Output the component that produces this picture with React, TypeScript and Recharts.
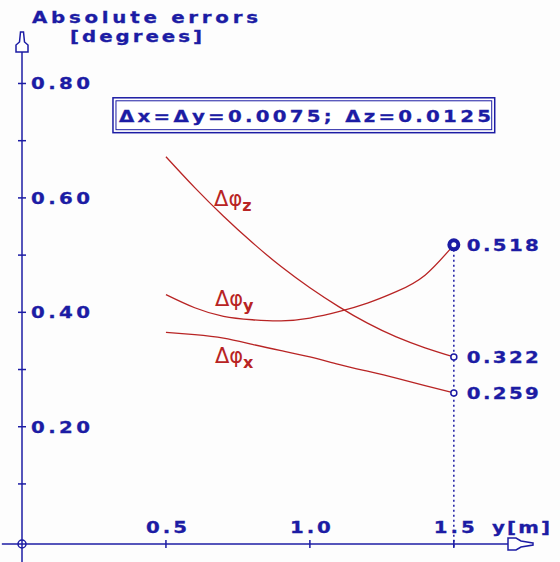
import { LineChart, Line, XAxis, YAxis, ReferenceLine, ReferenceDot, ReferenceArea } from 'recharts';

// position along y [m] and absolute orientation errors [deg]
const positions = [0.5, 0.6, 0.7, 0.8, 0.9, 1.0, 1.1, 1.2, 1.3, 1.4, 1.5];
const errPhiX = [0.365, 0.361, 0.355, 0.344, 0.333, 0.322, 0.309, 0.297, 0.285, 0.272, 0.259];
const errPhiY = [0.431, 0.408, 0.393, 0.387, 0.385, 0.390, 0.401, 0.416, 0.436, 0.465, 0.518];
const errPhiZ = [0.672, 0.618, 0.568, 0.522, 0.480, 0.443, 0.410, 0.381, 0.357, 0.338, 0.322];

const xTicks = [0.5, 1.0, 1.5];
const xTickLabels = ['0.5', '1.0', '1.5'];
const yTicks = [0.1, 0.2, 0.3, 0.4, 0.5, 0.6, 0.7, 0.8];
const yTickLabels: Record<string, string> = { '0.2': '0.20', '0.4': '0.40', '0.6': '0.60', '0.8': '0.80' };

const titleLines = ['Absolute errors', '[degrees]'];
const xAxisName = 'y[m]';
const stepsText = 'Δx=Δy=0.0075; Δz=0.0125';

const data = positions.map((x, i) => ({ x, dx: errPhiX[i], dy: errPhiY[i], dz: errPhiZ[i] }));

const X_MAX = 1.775;
const Y_MIN = -0.005;
const Y_MAX = 0.89;
const LAST = positions.length - 1;

const BLUE = '#1c1ca4';
const RED = '#b82424';
const SANS = '"DejaVu Sans", sans-serif';
const SX = 1.2;

// wide, heavy "terminal" style text; width is the ink span in px
function PixText({ x, y, width, text, fill = BLUE }: { x: number; y: number; width: number; text: string; fill?: string }) {
    return (
        <text
            transform={`translate(${x},${y}) scale(${SX},1)`}
            fontFamily={SANS}
            fontWeight="bold"
            fontSize={16.5}
            fill={fill}
            stroke={fill}
            strokeWidth={0.3}
            textLength={width / SX}
            lengthAdjust="spacing"
        >
            {text}
        </text>
    );
}

function YTick({ x, y, payload }: any) {
    const label = yTickLabels[String(Math.round(payload.value * 10) / 10)];
    return (
        <g>
            <line x1={x - 4} x2={x + 4} y1={y} y2={y} stroke={BLUE} strokeWidth={1.5} />
            {label && <PixText x={x + 9} y={y + 6} width={59} text={label} />}
        </g>
    );
}

function XTick({ x, y, payload, index }: any) {
    return (
        <g>
            <line x1={x} x2={x} y1={y - 4} y2={y + 4} stroke={BLUE} strokeWidth={1.5} />
            <PixText x={x - 20} y={y - 11} width={41} text={xTickLabels[index] ?? String(payload.value)} />
        </g>
    );
}

function endDot(big: boolean) {
    return (props: any) => {
        const { cx, cy, index, value } = props;
        if (index !== LAST) return <g key={`d-${index}`} />;
        const v = Array.isArray(value) ? value[1] : value;
        return (
            <g key={`d-${index}`}>
                {big ? (
                    <circle cx={cx} cy={cy} r={4.5} fill="#fff" stroke={BLUE} strokeWidth={4} />
                ) : (
                    <circle cx={cx} cy={cy} r={3} fill="#fff" stroke={BLUE} strokeWidth={1.5} />
                )}
                <PixText x={cx + 13} y={cy + 6} width={72} text={Number(v).toFixed(3)} />
            </g>
        );
    };
}

function PhiLabel({ cx, cy, sub }: { cx: number; cy: number; sub: string }) {
    return (
        <text x={cx} y={cy} fill={RED} fontFamily={SANS} fontSize={21}>
            Δφ
            <tspan dy={5} fontSize={16} fontWeight="bold">
                {sub}
            </tspan>
        </text>
    );
}

export default function App() {
    return (
        <div style={{ position: 'absolute', left: 0, top: 0, width: 560, height: 562, background: '#fdfdfd' }}>
            <LineChart width={560} height={562} data={data} margin={{ top: 32, right: 27, bottom: 0, left: 0 }}>
                <XAxis
                    type="number"
                    dataKey="x"
                    domain={[0, X_MAX]}
                    ticks={xTicks}
                    height={18}
                    axisLine={false}
                    tickLine={false}
                    tickSize={0}
                    tickMargin={0}
                    tick={<XTick />}
                />
                <YAxis
                    type="number"
                    domain={[Y_MIN, Y_MAX]}
                    ticks={yTicks}
                    width={22}
                    axisLine={false}
                    tickLine={false}
                    tickSize={0}
                    tickMargin={0}
                    tick={<YTick />}
                />

                {/* axes with their arrow heads */}
                <ReferenceLine
                    segment={[{ x: 0, y: Y_MIN - 0.04 }, { x: 0, y: Y_MAX }]}
                    stroke={BLUE}
                    strokeWidth={1.5}
                    ifOverflow="visible"
                />
                <ReferenceLine
                    segment={[{ x: -0.07, y: Y_MIN }, { x: X_MAX, y: Y_MIN }]}
                    stroke={BLUE}
                    strokeWidth={1.5}
                    ifOverflow="visible"
                />
                <ReferenceLine
                    segment={[{ x: positions[LAST], y: errPhiY[LAST] }, { x: positions[LAST], y: Y_MIN - 0.006 }]}
                    stroke={BLUE}
                    strokeWidth={1.5}
                    strokeDasharray="2 3"
                    ifOverflow="visible"
                />
                <ReferenceDot
                    x={0}
                    y={Y_MAX}
                    r={1}
                    ifOverflow="visible"
                    shape={(p: any) => (
                        <g>
                            <path
                                d={`M${p.cx - 1.5},${p.cy} L${p.cx + 1.5},${p.cy} L${p.cx + 2.5},${p.cy + 10} L${p.cx + 6},${p.cy + 13} L${p.cx + 6},${p.cy + 20} L${p.cx - 6},${p.cy + 20} L${p.cx - 6},${p.cy + 13} L${p.cx - 2.5},${p.cy + 10} Z`}
                                fill="#fff"
                                stroke={BLUE}
                                strokeWidth={1.5}
                            />
                            {titleLines.map((t, i) => (
                                <PixText
                                    key={t}
                                    x={p.cx + (i === 0 ? 10 : 48)}
                                    y={p.cy - 9 + i * 19}
                                    width={i === 0 ? 226 : 132}
                                    text={t}
                                />
                            ))}
                        </g>
                    )}
                />
                <ReferenceDot
                    x={X_MAX}
                    y={Y_MIN}
                    r={1}
                    ifOverflow="visible"
                    shape={(p: any) => (
                        <g>
                            <path
                                d={`M${p.cx},${p.cy - 1} L${p.cx - 12},${p.cy - 3} L${p.cx - 17},${p.cy - 6} L${p.cx - 25},${p.cy - 6} L${p.cx - 25},${p.cy + 6} L${p.cx - 17},${p.cy + 6} L${p.cx - 12},${p.cy + 3} L${p.cx},${p.cy + 1} Z`}
                                fill="#fff"
                                stroke={BLUE}
                                strokeWidth={1.5}
                            />
                            <PixText x={p.cx - 41} y={p.cy - 11} width={58} text={xAxisName} />
                        </g>
                    )}
                />
                <ReferenceDot
                    x={0}
                    y={Y_MIN}
                    r={4}
                    ifOverflow="visible"
                    shape={(p: any) => (
                        <g stroke={BLUE} strokeWidth={1.5}>
                            <circle cx={p.cx} cy={p.cy} r={4} fill="#fff" />
                            <line x1={p.cx - 4} x2={p.cx + 4} y1={p.cy} y2={p.cy} />
                            <line x1={p.cx} x2={p.cx} y1={p.cy - 4} y2={p.cy + 4} />
                        </g>
                    )}
                />

                {/* integration step sizes */}
                <ReferenceArea
                    x1={0.316}
                    x2={1.642}
                    y1={0.714}
                    y2={0.775}
                    ifOverflow="visible"
                    shape={(p: any) => (
                        <g>
                            <rect x={p.x} y={p.y} width={p.width} height={p.height} fill="#fff" stroke={BLUE} strokeWidth={1.5} />
                            <rect x={p.x + 3} y={p.y + 3} width={p.width - 6} height={p.height - 6} fill="none" stroke={BLUE} strokeWidth={1} />
                            <PixText x={p.x + 6} y={p.y + 24} width={372} text={stepsText} />
                        </g>
                    )}
                />

                <Line type="natural" dataKey="dz" stroke={RED} strokeWidth={1.3} dot={endDot(false)} activeDot={false} isAnimationActive={false} />
                <Line type="natural" dataKey="dy" stroke={RED} strokeWidth={1.3} dot={endDot(true)} activeDot={false} isAnimationActive={false} />
                <Line type="natural" dataKey="dx" stroke={RED} strokeWidth={1.3} dot={endDot(false)} activeDot={false} isAnimationActive={false} />

                <ReferenceDot x={0.667} y={0.585} r={1} ifOverflow="visible" shape={(p: any) => <PhiLabel cx={p.cx} cy={p.cy} sub="z" />} />
                <ReferenceDot x={0.67} y={0.411} r={1} ifOverflow="visible" shape={(p: any) => <PhiLabel cx={p.cx} cy={p.cy} sub="y" />} />
                <ReferenceDot x={0.67} y={0.312} r={1} ifOverflow="visible" shape={(p: any) => <PhiLabel cx={p.cx} cy={p.cy} sub="x" />} />
            </LineChart>
        </div>
    );
}
